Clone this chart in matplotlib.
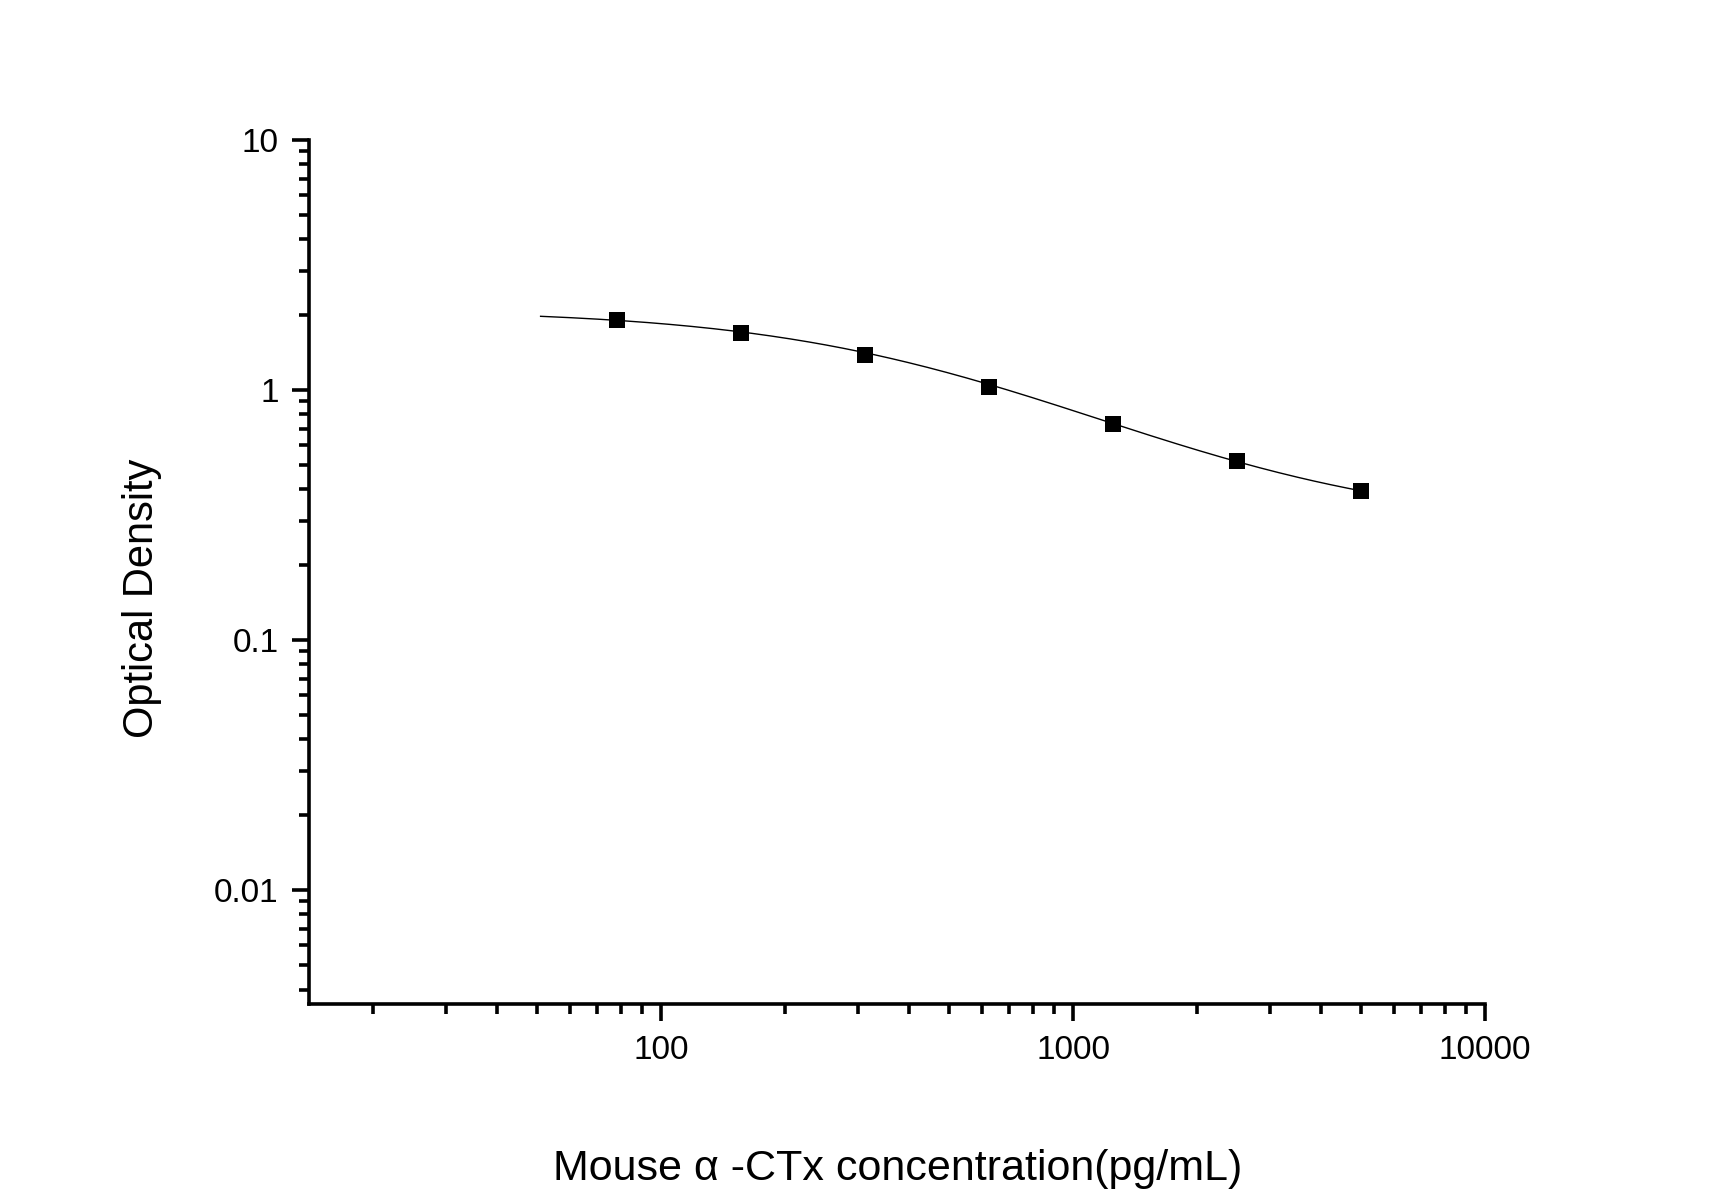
import numpy as np
import matplotlib
matplotlib.use("Agg")
import matplotlib.pyplot as plt
from matplotlib.ticker import FixedLocator, NullFormatter

plt.rcParams['font.family'] = ['Liberation Sans', 'DejaVu Sans']

# standard points (pg/mL) and measured OD
conc = [78.125, 156.25, 312.5, 625, 1250, 2500, 5000]
od = [1.905, 1.69, 1.38, 1.028, 0.731, 0.520, 0.394]

# 4-parameter logistic fit, parameters
fit_a1 = 2.10
fit_a2 = 0.28
fit_x0 = 480.0
fit_p = 1.15
fit_range = (51, 5000)

x_ticks = [100, 1000, 10000]
x_tick_labels = ["100", "1000", "10000"]
y_ticks = [0.01, 0.1, 1, 10]
y_tick_labels = ["0.01", "0.1", "1", "10"]

W, H = 1725, 1204
fig = plt.figure(figsize=(W / 100, H / 100), dpi=100)
ax = fig.add_axes([309.3 / W, 1 - 1004 / H, (1485 - 309.3) / W, (1004 - 140) / H])

# fitted curve
xs = np.logspace(np.log10(fit_range[0]), np.log10(fit_range[1]), 300)
ys = fit_a2 + (fit_a1 - fit_a2) / (1 + (xs / fit_x0) ** fit_p)
ax.plot(xs, ys, color='black', lw=1.0)

# data points
ax.plot(conc, od, 's', color='black', markersize=11.5, markeredgewidth=0)

ax.set_xscale('log')
ax.set_yscale('log')
ax.set_xlim(14, 10000)
ax.set_ylim(0.0035, 10)

ax.xaxis.set_major_locator(FixedLocator(x_ticks))
ax.set_xticklabels(x_tick_labels)
ax.yaxis.set_major_locator(FixedLocator(y_ticks))
ax.set_yticklabels(y_tick_labels)

x_minor = [m * 10 ** e for e in range(1, 4) for m in range(2, 10)]
x_minor = [v for v in x_minor if v >= 14]
y_minor = [m * 10.0 ** e for e in range(-3, 1) for m in range(2, 10)]
y_minor = [v for v in y_minor if v >= 0.0035]
ax.xaxis.set_minor_locator(FixedLocator(x_minor))
ax.yaxis.set_minor_locator(FixedLocator(y_minor))
ax.xaxis.set_minor_formatter(NullFormatter())
ax.yaxis.set_minor_formatter(NullFormatter())

for s in ['top', 'right']:
    ax.spines[s].set_visible(False)
for s in ['left', 'bottom']:
    ax.spines[s].set_linewidth(2.6)

ax.tick_params(which='major', direction='out', length=12.5, width=2.6, labelsize=24)
ax.tick_params(axis='x', which='major', pad=10)
ax.tick_params(axis='y', which='major', pad=9.5)
ax.tick_params(which='minor', direction='out', length=7, width=2.6)

fig.text(898 / W, 1 - 1169 / H, "Mouse \u03b1 -CTx concentration(pg/mL)",
         ha='center', va='center', fontsize=31)
fig.text(142 / W, 1 - 598 / H, "Optical Density", rotation=90,
         ha='center', va='center', fontsize=30)

fig.savefig("out.png", dpi=100, facecolor='white')
